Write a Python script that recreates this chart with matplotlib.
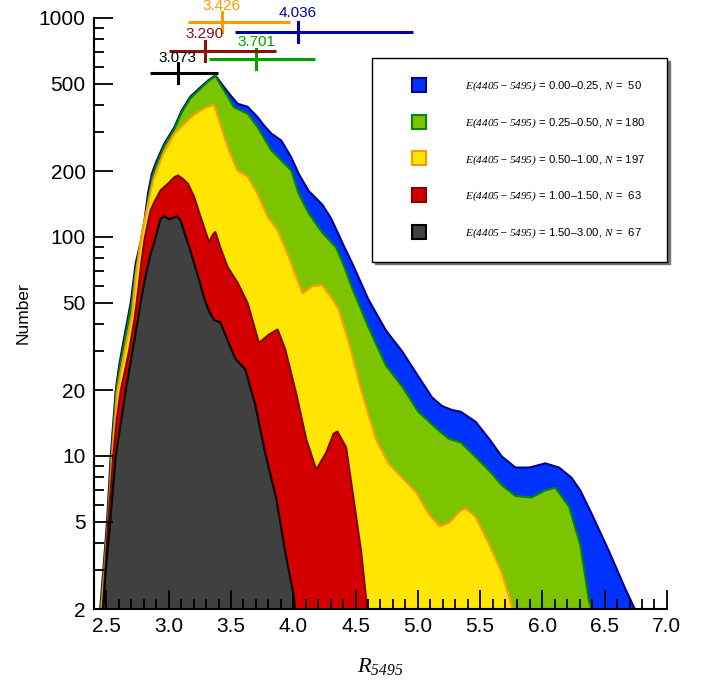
import matplotlib
matplotlib.use("Agg")
import matplotlib.pyplot as plt
from matplotlib.lines import Line2D
from matplotlib.ticker import FixedLocator, MultipleLocator, FormatStrFormatter, NullFormatter

plt.rcParams['font.family'] = ['Liberation Sans', 'DejaVu Sans']
plt.rcParams['mathtext.fontset'] = 'custom'
plt.rcParams['mathtext.it'] = 'Liberation Serif:italic'
# digits inside the math labels are italic serif too
plt.rcParams['mathtext.rm'] = 'Liberation Serif:italic'

# stacked smoothed distributions (top edge of each stacked layer)
r_total = [2.43, 2.445, 2.47, 2.50, 2.53, 2.57, 2.60, 2.65, 2.69, 2.73, 2.77, 2.80, 2.83, 2.86, 2.89,
           2.96, 3.04, 3.10, 3.17, 3.24, 3.31, 3.37, 3.44, 3.50, 3.55, 3.63, 3.71, 3.76, 3.82, 3.90,
           3.98, 4.04, 4.12, 4.23, 4.30, 4.40, 4.47, 4.60, 4.74, 4.87, 5.00, 5.11, 5.19, 5.27, 5.34,
           5.46, 5.57, 5.67, 5.78, 5.89, 6.02, 6.13, 6.23, 6.30, 6.39, 6.53, 6.66, 6.74, 6.78, 6.80]
n_total = [1.0, 2.0, 3.0, 5.0, 10, 20, 26.5, 38, 50, 76, 95, 118, 160, 195, 218,
           268, 318, 380, 440, 479, 520, 550, 486, 440, 408, 395, 354, 325, 298, 277,
           232, 195, 163, 141, 122, 92, 76, 52, 37.6, 30.2, 23.2, 18.6, 17.0, 16.3, 16.0,
           14.4, 12.0, 10.0, 8.9, 8.9, 9.3, 8.9, 8.0, 7.0, 5.5, 3.7, 2.5, 2.0, 1.5, 1.0]

r_green = [2.435, 2.45, 2.475, 2.505, 2.535, 2.575, 2.605, 2.655, 2.695, 2.735, 2.775, 2.805, 2.835,
           2.865, 2.895, 2.96, 3.04, 3.10, 3.17, 3.24, 3.31, 3.37, 3.44, 3.52, 3.63, 3.71, 3.76,
           3.82, 3.90, 3.98, 4.04, 4.12, 4.23, 4.34, 4.40, 4.47, 4.60, 4.74, 4.87, 5.00, 5.18,
           5.25, 5.34, 5.46, 5.57, 5.67, 5.78, 5.91, 6.02, 6.10, 6.21, 6.30, 6.37, 6.41, 6.43]
n_green = [1.0, 2.0, 3.0, 5.0, 10, 20, 26, 37, 48.5, 74, 92, 115, 155,
           190, 213, 262, 312, 372, 432, 472, 515, 546, 469, 393, 367, 319, 285,
           250, 225, 202, 158, 129, 105, 90, 75, 58.5, 38.9, 26.0, 20.9, 16.0, 12.9,
           12.0, 11.6, 9.95, 8.6, 7.4, 6.6, 6.5, 7.0, 7.2, 5.9, 3.96, 2.2, 1.8, 1.0]

r_yellow = [2.44, 2.455, 2.48, 2.51, 2.54, 2.58, 2.61, 2.66, 2.70, 2.73, 2.76, 2.79, 2.83, 2.87,
            2.95, 3.04, 3.13, 3.21, 3.29, 3.36, 3.41, 3.45, 3.49, 3.55, 3.63, 3.71, 3.79, 3.87,
            3.96, 4.07, 4.15, 4.23, 4.31, 4.36, 4.44, 4.55, 4.66, 4.76, 4.87, 4.98, 5.08, 5.17,
            5.25, 5.33, 5.38, 5.46, 5.57, 5.67, 5.76, 5.79]
n_yellow = [1.0, 2.0, 3.0, 5.0, 10, 19.5, 24.5, 34, 44, 66, 88, 112, 143, 183,
            240, 298, 335, 368, 392, 405, 330, 280, 241, 202, 190, 158, 124, 108,
            81.5, 55.5, 60, 60.6, 52.3, 47, 33.6, 19.3, 12.0, 9.3, 8.0, 6.9, 5.5, 4.8,
            5.0, 5.6, 5.8, 5.3, 3.96, 2.95, 2.0, 1.0]

r_red = [2.45, 2.465, 2.51, 2.55, 2.58, 2.61, 2.65, 2.68, 2.72, 2.75, 2.78, 2.80, 2.83, 2.85, 2.88,
         2.93, 2.99, 3.04, 3.07, 3.11, 3.15, 3.20, 3.24, 3.28, 3.32, 3.35, 3.37, 3.41, 3.47, 3.55,
         3.63, 3.72, 3.80, 3.87, 3.93, 4.02, 4.10, 4.18, 4.26, 4.32, 4.35, 4.42, 4.48, 4.54, 4.59, 4.61]
n_red = [1.0, 2.0, 5.0, 10, 15, 20, 25.5, 31, 42, 57, 80, 97, 118, 133, 145,
         164, 176, 188, 192, 185, 176, 153, 130, 111, 95, 103, 106, 90, 73, 62,
         50, 33, 36, 38, 31, 19.3, 12.0, 8.7, 10.4, 12.7, 13.0, 11.0, 6.4, 3.7, 2.0, 1.0]

r_black = [2.455, 2.47, 2.49, 2.525, 2.57, 2.65, 2.69, 2.75, 2.80, 2.85, 2.89, 2.93, 2.96, 3.00,
           3.03, 3.06, 3.09, 3.13, 3.17, 3.20, 3.24, 3.28, 3.32, 3.36, 3.41, 3.45, 3.53, 3.61,
           3.69, 3.77, 3.86, 3.93, 4.00, 4.02, 4.04]
n_black = [1.0, 2.0, 3.0, 5.0, 10, 20, 27, 43, 63, 84, 100, 122, 125, 121,
           123, 125, 120, 102, 87, 76, 64, 53, 46, 42, 41, 36, 28, 25,
           17.3, 10.4, 6.4, 3.7, 2.3, 1.8, 1.0]

ranges = ['0.00\u20130.25', '0.25\u20130.50', '0.50\u20131.00', '1.00\u20131.50', '1.50\u20133.00']
counts = [' 50', '180', '197', ' 63', ' 67']
fills = ['#0033FF', '#7DC400', '#FFE600', '#D40000', '#404040']
edges = ['#000099', '#008800', '#FF9900', '#880000', '#000000']

# mean R and spread of each group (low, mean, high)
r_mean = [4.036, 3.701, 3.426, 3.290, 3.073]
r_low = [3.534, 3.320, 3.152, 2.999, 2.853]
r_high = [4.962, 4.176, 3.970, 3.861, 3.393]
bar_colors = ['#0000B0', '#00A000', '#FF9900', '#8B1010', '#000000']
bar_y = [0.977, 0.930, 0.9937, 0.9447, 0.9064]
lab_y = [1.008, 0.960, 1.020, 0.973, 0.932]

fig = plt.figure(figsize=(7.08, 6.84), dpi=100)
ax = fig.add_axes([0.1328, 0.1096, 0.942 - 0.1328, 0.9737 - 0.1096])

curves = [(r_total, n_total), (r_green, n_green), (r_yellow, n_yellow),
          (r_red, n_red), (r_black, n_black)]
for (rr, nn), fc, ec in zip(curves, fills, edges):
    ax.fill_between(rr, 0.5, nn, facecolor=fc, edgecolor=ec, linewidth=1.5)

ax.set_yscale('log')
ax.set_xlim(2.4, 7.0)
ax.set_ylim(2, 1000)

ax.yaxis.set_major_locator(FixedLocator([2, 5, 10, 20, 50, 100, 200, 500, 1000]))
ax.yaxis.set_major_formatter(FormatStrFormatter('%d'))
ax.yaxis.set_minor_locator(FixedLocator([3, 4, 6, 7, 8, 9, 30, 40, 60, 70, 80, 90,
                                         300, 400, 600, 700, 800, 900]))
ax.yaxis.set_minor_formatter(NullFormatter())
ax.xaxis.set_major_locator(MultipleLocator(0.5))
ax.xaxis.set_minor_locator(MultipleLocator(0.1))
ax.xaxis.set_major_formatter(FormatStrFormatter('%.1f'))

for s in ['top', 'right']:
    ax.spines[s].set_visible(False)
for s in ['left', 'bottom']:
    ax.spines[s].set_linewidth(1.5)
ax.tick_params(which='major', direction='in', length=14, width=1.3, labelsize=15, pad=6)
ax.tick_params(which='minor', direction='in', length=7, width=1.3)

ax.set_ylabel('Number', fontsize=12.5)
ax.yaxis.set_label_coords(-0.110, 0.5)
ax.set_xlabel(r'$R_{5495}$', fontsize=16, labelpad=14)

# mean values with ranges above the peak
xt = ax.get_xaxis_transform()
for m, lo, hi, c, yb, yl in zip(r_mean, r_low, r_high, bar_colors, bar_y, lab_y):
    ax.plot([lo, hi], [yb, yb], color=c, lw=2.2, transform=xt, clip_on=False, solid_capstyle='butt')
    ax.plot([m, m], [yb - 0.017, yb + 0.017], color=c, lw=2.2, transform=xt, clip_on=False)
    ax.text(m, yl, '%.3f' % m, color=c, fontsize=11, ha='center', va='center', transform=xt)

handles = []
labels = []
for rg, cnt, fc, ec in zip(ranges, counts, fills, edges):
    handles.append(Line2D([], [], ls='none', marker='s', markersize=10,
                          markerfacecolor=fc, markeredgecolor=ec, markeredgewidth=1.5))
    labels.append(r'$E(4405-5495)$ = ' + rg + r', $N$ = ' + cnt)
leg = ax.legend(handles, labels, loc='upper left', bbox_to_anchor=(0.5254, 0.9152),
                bbox_transform=fig.transFigure, fontsize=8.1, frameon=True, fancybox=False,
                shadow={'color': '0.45', 'alpha': 1}, borderpad=1.95, labelspacing=2.05,
                handlelength=4.45, handletextpad=1.87, borderaxespad=0)
leg.get_frame().set_edgecolor('black')
leg.get_frame().set_linewidth(1.0)

fig.savefig('out.png', dpi=100)
